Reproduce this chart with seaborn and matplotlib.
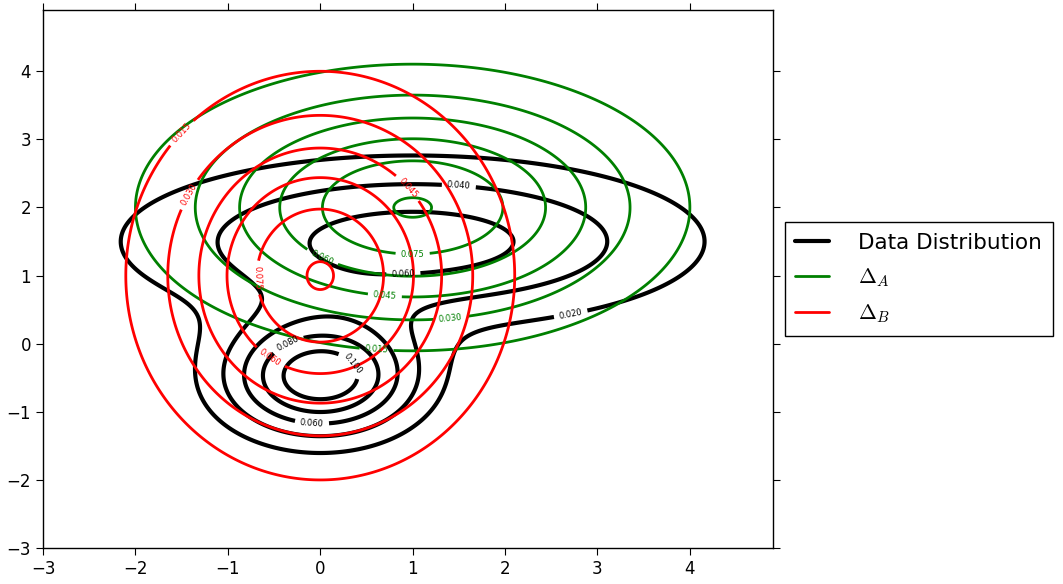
"""
Contour plot: data distribution vs. two Gaussian approximations
"""

import numpy as np
import matplotlib
matplotlib.use("Agg")
import matplotlib.pyplot as plt
from matplotlib.lines import Line2D
import seaborn as sns

# Data distribution: mixture of two Gaussians
data_weights = [0.7, 0.3]
data_means = [[1.0, 1.5], [0.0, -0.5]]
data_covs = [[[4.0, 0.0], [0.0, 0.64]],
             [[0.5, 0.0], [0.0, 0.35]]]

# Approximations
delta_a_mean = [1.0, 2.0]
delta_a_cov = [[2.5, 0.0], [0.0, 1.23]]
delta_b_mean = [0.0, 1.0]
delta_b_cov = [[1.23, 0.0], [0.0, 2.5]]

# Contour levels
data_levels = [0.02, 0.04, 0.06, 0.08, 0.10]
delta_levels = [0.015, 0.030, 0.045, 0.060, 0.075, 0.090]

legend_labels = ["Data Distribution", r"$\Delta_A$", r"$\Delta_B$"]
x_ticks = [-3, -2, -1, 0, 1, 2, 3, 4]
y_ticks = [-3, -2, -1, 0, 1, 2, 3, 4]


def gaussian(X, Y, mean, cov):
    """Bivariate normal density on a grid"""
    cov = np.asarray(cov)
    inv = np.linalg.inv(cov)
    dx = X - mean[0]
    dy = Y - mean[1]
    q = inv[0, 0] * dx**2 + 2 * inv[0, 1] * dx * dy + inv[1, 1] * dy**2
    return np.exp(-0.5 * q) / (2 * np.pi * np.sqrt(np.linalg.det(cov)))


sns.set_style("white")
plt.rcParams.update({
    "font.family": ["DejaVu Sans"],
    "mathtext.fontset": "cm",
    "text.color": "black",
    "xtick.color": "black",
    "ytick.color": "black",
    "xtick.direction": "out",
    "ytick.direction": "out",
    "xtick.top": True,
    "ytick.right": True,
    "xtick.bottom": True,
    "ytick.left": True,
    "xtick.major.size": 5,
    "ytick.major.size": 5,
    "xtick.labelsize": 12,
    "ytick.labelsize": 12,
    "axes.edgecolor": "black",
    "axes.linewidth": 1.0,
})

xs = np.linspace(-3, 5, 400)
ys = np.linspace(-3, 5, 400)
X, Y = np.meshgrid(xs, ys)

Z_data = sum(w * gaussian(X, Y, m, c) for w, m, c in zip(data_weights, data_means, data_covs))
Z_a = gaussian(X, Y, delta_a_mean, delta_a_cov)
Z_b = gaussian(X, Y, delta_b_mean, delta_b_cov)

fig = plt.figure(figsize=(10.63, 5.84), dpi=100)
ax = fig.add_axes([0.0405, 0.0616, 0.6867, 0.9213])

cs_data = ax.contour(X, Y, Z_data, levels=data_levels, colors="k", linewidths=3)
cs_a = ax.contour(X, Y, Z_a, levels=delta_levels, colors="g", linewidths=2)
cs_b = ax.contour(X, Y, Z_b, levels=delta_levels, colors="r", linewidths=2)

ax.clabel(cs_data, fmt="%.3f", fontsize=6, inline=True,
          manual=[(1.5, 2.32), (0.9, 1.01), (2.71, 0.44), (-0.36, 0.02),
                  (0.35, -0.29), (-0.09, -1.17)])
ax.clabel(cs_a, fmt="%.3f", fontsize=6, inline=True,
          manual=[(1.0, 1.32), (0.02, 1.26), (0.7, 0.72), (1.41, 0.38), (0.61, -0.07)])
ax.clabel(cs_b, fmt="%.3f", fontsize=6, inline=True,
          manual=[(-1.52, 3.12), (-1.43, 2.2), (-0.68, 0.97), (0.95, 2.29), (-0.54, -0.2)])

ax.set_xlim(-3, 4.9)
ax.set_ylim(-3, 4.9)
ax.set_xticks(x_ticks)
ax.set_yticks(y_ticks)
ax.set_xticklabels([str(t).replace("-", "\u2212") for t in x_ticks])
ax.set_yticklabels([str(t).replace("-", "\u2212") for t in y_ticks])

handles = [Line2D([], [], color="k", lw=3),
           Line2D([], [], color="g", lw=2),
           Line2D([], [], color="r", lw=2)]
leg = ax.legend(handles, legend_labels, loc="center left", bbox_to_anchor=(1.016, 0.5),
                fontsize=15.5, fancybox=False, framealpha=1, edgecolor="black",
                handlelength=1.55, handletextpad=1.35, borderpad=0.5,
                labelspacing=0.62, borderaxespad=0)
leg.get_frame().set_linewidth(1.0)

plt.savefig("out.png", dpi=100)
